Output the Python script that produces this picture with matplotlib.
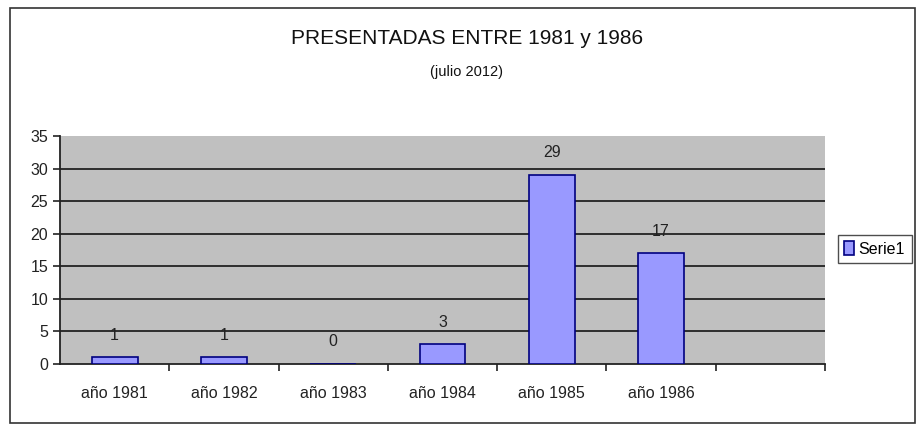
import matplotlib.pyplot as plt
import numpy as np
from matplotlib.patches import Rectangle

plt.rcParams['font.family'] = ['Liberation Sans', 'DejaVu Sans']

# Data
categories = ['año 1981', 'año 1982', 'año 1983', 'año 1984', 'año 1985', 'año 1986']
values = [1, 1, 0, 3, 29, 17]
n_slots = 7  # Excel left an empty slot at the end
series_name = 'Serie1'
yticks = np.arange(0, 36, 5)

fig = plt.figure(figsize=(9.18, 4.25), dpi=100)
fig.patch.set_facecolor('white')

# chart border
fig.patches.append(Rectangle((10 / 918, 2 / 425), 905 / 918, 415 / 425,
                             transform=fig.transFigure, fill=False,
                             edgecolor='#333333', linewidth=1.2))

ax = fig.add_axes([60 / 918, 1 - 364 / 425, 765 / 918, 228 / 425])
ax.set_facecolor('#c0c0c0')

x = np.arange(len(categories))
bars = ax.bar(x, values, width=0.42, color='#9999ff', edgecolor='#000080',
              linewidth=1.2, zorder=3, label=series_name)

for xi, v in zip(x, values):
    ax.annotate(str(v), (xi, v), xytext=(0, 16), textcoords='offset points',
                ha='center', va='center', fontsize=11.5, color='#222222')

ax.set_xlim(-0.5, n_slots - 0.5)
ax.set_ylim(0, 35)
ax.set_yticks(yticks)
# gridlines only between the bottom axis and the top edge
for yv in yticks[1:-1]:
    ax.axhline(yv, color='#222222', linewidth=1.3, zorder=1)

ax.set_xticks(x)
ax.set_xticklabels(categories, fontsize=11.5, color='#222222')
ax.set_xticks(np.arange(0.5, n_slots, 1), minor=True)
ax.tick_params(axis='x', which='major', length=0, pad=16)
ax.tick_params(axis='x', which='minor', length=5, width=1.2, direction='out', color='#222222')
ax.tick_params(axis='y', length=5, width=1.2, labelsize=11.5, labelcolor='#222222', color='#222222')

for side in ['top', 'right']:
    ax.spines[side].set_visible(False)
ax.spines['left'].set_linewidth(1.3)
ax.spines['bottom'].set_linewidth(1.3)
ax.spines['left'].set_color('#222222')
ax.spines['bottom'].set_color('#222222')

fig.text(467 / 918, 1 - 38 / 425, 'PRESENTADAS ENTRE 1981 y 1986', ha='center', va='center',
         fontsize=15, color='#111111')
fig.text(467 / 918, 1 - 72 / 425, '(julio 2012)', ha='center', va='center',
         fontsize=10.5, color='#111111')

leg = fig.legend(handles=[bars], labels=[series_name], loc='center left',
                 bbox_to_anchor=(838 / 918, 1 - 249 / 425), frameon=True, fancybox=False,
                 edgecolor='#222222', fontsize=11.5, handlelength=0.6, handleheight=0.9,
                 handletextpad=0.3, borderpad=0.4, borderaxespad=0)
leg.get_frame().set_linewidth(1.0)

plt.savefig('out.png', dpi=100)
